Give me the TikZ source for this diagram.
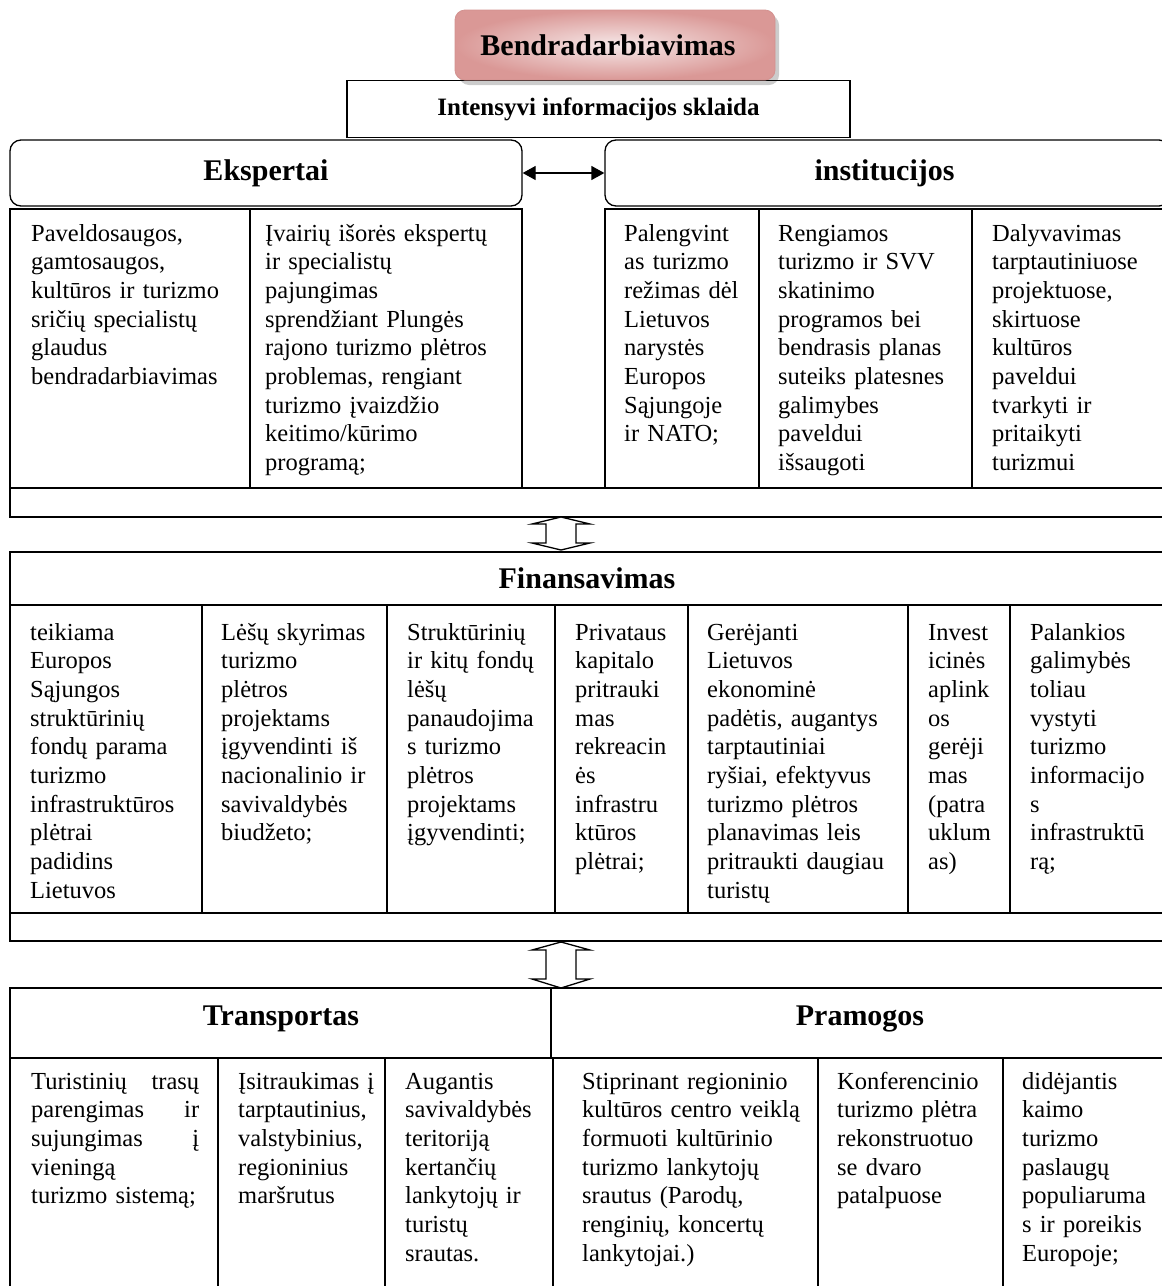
\documentclass[tikz,border=0pt]{standalone}
\usepackage{fontspec}
\setmainfont{Liberation Serif}
\usetikzlibrary{arrows.meta}
\definecolor{pinkA}{HTML}{F6E8E8}
\definecolor{pinkB}{HTML}{DA9896}
\definecolor{pinkC}{HTML}{D39290}
\begin{document}
\begin{tikzpicture}[x=1pt,y=-1pt,
  ln/.style={line width=1.3pt, line join=miter},
  txt/.style={anchor=base west, inner sep=0pt, align=left, text width=262pt,
              font=\fontsize{24.5}{28.7}\selectfont},
  hd/.style={inner sep=0pt, font=\fontsize{30}{36}\selectfont\bfseries},
  hollow/.style={draw, line width=1.3pt, fill=white, line join=miter},
  >={Stealth[length=13pt,width=14pt,inset=0pt]}
]
\useasboundingbox (0,0) rectangle (1162,1286);
\clip (0,0) rectangle (1162,1286);
\fill[white] (0,0) rectangle (1162,1286);

% ---------- top ----------
\node[draw, ln, minimum width=503pt, minimum height=57pt, inner sep=0pt,
      font=\fontsize{25}{30}\selectfont\bfseries] (info) at (598.5,109) {Intensyvi informacijos sklaida};
\fill[black, opacity=0.2, rounded corners=10pt] (459,15) rectangle (779,85);
\node[draw=pinkC, line width=0.8pt, rounded corners=10pt, minimum width=320pt, minimum height=70pt,
      inner color=pinkA, outer color=pinkB, hd] (bend) at (615,45) {\hspace*{-14pt}Bendradarbiavimas};

% ---------- row 1 ----------
\node[draw, ln, rounded corners=11pt, minimum width=512pt, minimum height=66pt, hd] (ek) at (266,173) {Ekspertai};
\node[draw, ln, rounded corners=11pt, minimum width=565pt, minimum height=66pt, hd] (inst) at (887.5,173) {\hspace*{-6pt}institucijos};
\draw[ln, <->] (ek.east) -- (inst.west);

\draw[ln] (10,209) rectangle (250,488);
\draw[ln] (250,209) rectangle (522,488);
\draw[ln] (605,209) rectangle (759,488);
\draw[ln] (759,209) rectangle (972,488);
\draw[ln] (972,209) rectangle (1180,488);
\draw[ln] (10,488) rectangle (1180,517);

\node[txt] (r1a) at (31,241) {Paveldosaugos,\\gamtosaugos,\\kultūros ir turizmo\\sričių specialistų\\glaudus\\bendradarbiavimas};
\node[txt] (r1b) at (265,241) {Įvairių išorės ekspertų\\ir specialistų\\pajungimas\\sprendžiant Plungės\\rajono turizmo plėtros\\problemas, rengiant\\turizmo įvaizdžio\\keitimo/kūrimo\\programą;};
\node[txt] (r1c) at (624,241) {Palengvint\\as turizmo\\režimas dėl\\Lietuvos\\narystės\\Europos\\Sąjungoje\\ir NATO;};
\node[txt] (r1d) at (778,241) {Rengiamos\\turizmo ir SVV\\skatinimo\\programos bei\\bendrasis planas\\suteiks platesnes\\galimybes\\paveldui\\išsaugoti};
\node[txt] (r1e) at (992,241) {Dalyvavimas\\tarptautiniuose\\projektuose,\\skirtuose\\kultūros\\paveldui\\tvarkyti ir\\pritaikyti\\turizmui};

% arrow 1
\draw[hollow] (561,517) -- (590,524) -- (576,524) -- (576,543) -- (590,543) -- (561,550)
   -- (532,543) -- (546,543) -- (546,524) -- (532,524) -- cycle;

% ---------- row 2 ----------
\draw[ln] (10,552) rectangle (1180,605);
\node[hd] (fin) at (587,578) {Finansavimas};
\draw[ln] (10,605) rectangle (202,913);
\draw[ln] (202,605) rectangle (387,913);
\draw[ln] (387,605) rectangle (555,913);
\draw[ln] (555,605) rectangle (688,913);
\draw[ln] (688,605) rectangle (908,913);
\draw[ln] (908,605) rectangle (1010,913);
\draw[ln] (1010,605) rectangle (1180,913);
\draw[ln] (10,913) rectangle (1180,941);

\node[txt] (r2a) at (30,640) {teikiama\\Europos\\Sąjungos\\struktūrinių\\fondų parama\\turizmo\\infrastruktūros\\plėtrai\\padidins\\Lietuvos};
\node[txt] (r2b) at (221,640) {Lėšų skyrimas\\turizmo\\plėtros\\projektams\\įgyvendinti iš\\nacionalinio ir\\savivaldybės\\biudžeto;};
\node[txt] (r2c) at (407,640) {Struktūrinių\\ir kitų fondų\\lėšų\\panaudojima\\s turizmo\\plėtros\\projektams\\įgyvendinti;};
\node[txt] (r2d) at (575,640) {Privataus\\kapitalo\\pritrauki\\mas\\rekreacin\\ės\\infrastru\\ktūros\\plėtrai;};
\node[txt] (r2e) at (707,640) {Gerėjanti\\Lietuvos\\ekonominė\\padėtis, augantys\\tarptautiniai\\ryšiai, efektyvus\\turizmo plėtros\\planavimas leis\\pritraukti daugiau\\turistų};
\node[txt] (r2f) at (928,640) {Invest\\icinės\\aplink\\os\\gerėji\\mas\\(patra\\uklum\\as)};
\node[txt] (r2g) at (1030,640) {Palankios\\galimybės\\toliau\\vystyti\\turizmo\\informacijo\\s\\infrastruktū\\rą;};

% arrow 2
\draw[hollow] (561,942) -- (590,950) -- (576,950) -- (576,979) -- (590,979) -- (561,988)
   -- (532,979) -- (546,979) -- (546,950) -- (532,950) -- cycle;

% ---------- row 3 ----------
\draw[ln] (10,988) rectangle (551,1058);
\draw[ln] (551,988) rectangle (1180,1058);
\node[hd, anchor=base] (trans) at (281,1025) {Transportas};
\node[hd, anchor=base] (pram) at (860,1025) {Pramogos};
\draw[ln] (10,1058) -- (10,1300);
\draw[ln] (218,1058) -- (218,1300);
\draw[ln] (385,1058) -- (385,1300);
\draw[ln] (553,1058) -- (553,1300);
\draw[ln] (818,1058) -- (818,1300);
\draw[ln] (1003,1058) -- (1003,1300);

\node[txt] (r3a) at (31,1089) {\makebox[168pt][l]{Turistinių\hfill trasų}\\\makebox[168pt][l]{parengimas\hfill ir}\\\makebox[168pt][l]{sujungimas\hfill į}\\vieningą\\turizmo sistemą;};
\node[txt] (r3b) at (238,1089) {Įsitraukimas į\\tarptautinius,\\valstybinius,\\regioninius\\maršrutus};
\node[txt] (r3c) at (405,1089) {Augantis\\savivaldybės\\teritoriją\\kertančių\\lankytojų ir\\turistų\\srautas.};
\node[txt] (r3d) at (582,1089) {Stiprinant regioninio\\kultūros centro veiklą\\formuoti kultūrinio\\turizmo lankytojų\\srautus (Parodų,\\renginių, koncertų\\lankytojai.)};
\node[txt] (r3e) at (837,1089) {Konferencinio\\turizmo plėtra\\rekonstruotuo\\se dvaro\\patalpuose};
\node[txt] (r3f) at (1022,1089) {didėjantis\\kaimo\\turizmo\\paslaugų\\populiaruma\\s ir poreikis\\Europoje;};
\end{tikzpicture}
\end{document}
